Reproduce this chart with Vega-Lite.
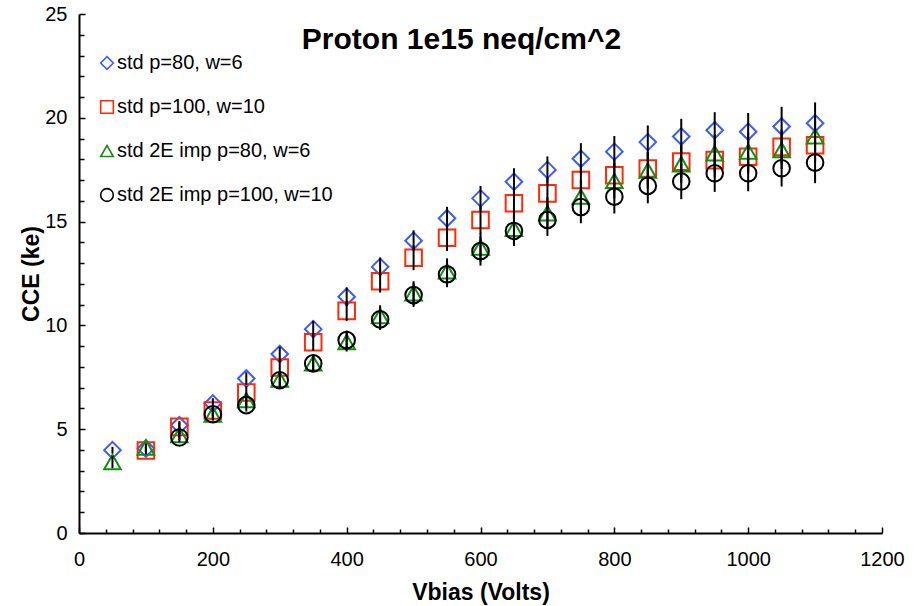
{
  "$schema": "https://vega.github.io/schema/vega-lite/v6.json",
  "autosize": {"type": "none"},
  "width": 803,
  "height": 519,
  "padding": {"left": 79, "top": 14, "right": 41, "bottom": 73},
  "background": "white",
  "config": {
    "font": "Liberation Sans",
    "view": {"stroke": null},
    "axis": {"grid": false, "domainColor": "black", "domainWidth": 2, "tickColor": "black", "tickWidth": 1.5, "labelColor": "black", "labelFont": "Liberation Sans", "labelFontSize": 20, "labelFlush": false, "titleFont": "Liberation Sans", "titleFontSize": 23, "titleFontWeight": "bold", "titleColor": "black"}
  },
  "title": {"text": "Proton 1e15 neq/cm^2", "font": "Liberation Sans", "fontSize": 30, "fontWeight": "bold", "color": "black", "anchor": "middle", "orient": "top", "offset": -51, "dx": -19},
  "data": {"values": [
    {"series": "std p=80, w=6", "vbias": 50, "cce": 3.99, "err": 0.16},
    {"series": "std p=80, w=6", "vbias": 100, "cce": 4.07, "err": 0.17},
    {"series": "std p=80, w=6", "vbias": 150, "cce": 5.19, "err": 0.2},
    {"series": "std p=80, w=6", "vbias": 200, "cce": 6.24, "err": 0.25},
    {"series": "std p=80, w=6", "vbias": 250, "cce": 7.44, "err": 0.3},
    {"series": "std p=80, w=6", "vbias": 300, "cce": 8.62, "err": 0.35},
    {"series": "std p=80, w=6", "vbias": 350, "cce": 9.82, "err": 0.4},
    {"series": "std p=80, w=6", "vbias": 400, "cce": 11.38, "err": 0.45},
    {"series": "std p=80, w=6", "vbias": 450, "cce": 12.82, "err": 0.45},
    {"series": "std p=80, w=6", "vbias": 500, "cce": 14.08, "err": 0.5},
    {"series": "std p=80, w=6", "vbias": 550, "cce": 15.16, "err": 0.55},
    {"series": "std p=80, w=6", "vbias": 600, "cce": 16.12, "err": 0.6},
    {"series": "std p=80, w=6", "vbias": 650, "cce": 16.92, "err": 0.65},
    {"series": "std p=80, w=6", "vbias": 700, "cce": 17.49, "err": 0.65},
    {"series": "std p=80, w=6", "vbias": 750, "cce": 18.03, "err": 0.75},
    {"series": "std p=80, w=6", "vbias": 800, "cce": 18.37, "err": 0.75},
    {"series": "std p=80, w=6", "vbias": 850, "cce": 18.83, "err": 0.8},
    {"series": "std p=80, w=6", "vbias": 900, "cce": 19.1, "err": 0.85},
    {"series": "std p=80, w=6", "vbias": 950, "cce": 19.4, "err": 0.87},
    {"series": "std p=80, w=6", "vbias": 1000, "cce": 19.33, "err": 0.9},
    {"series": "std p=80, w=6", "vbias": 1050, "cce": 19.58, "err": 0.95},
    {"series": "std p=80, w=6", "vbias": 1100, "cce": 19.74, "err": 1.0},
    {"series": "std p=100, w=10", "vbias": 100, "cce": 3.97, "err": 0.18},
    {"series": "std p=100, w=10", "vbias": 150, "cce": 5.11, "err": 0.23},
    {"series": "std p=100, w=10", "vbias": 200, "cce": 5.9, "err": 0.27},
    {"series": "std p=100, w=10", "vbias": 250, "cce": 6.77, "err": 0.3},
    {"series": "std p=100, w=10", "vbias": 300, "cce": 7.97, "err": 0.36},
    {"series": "std p=100, w=10", "vbias": 350, "cce": 9.19, "err": 0.41},
    {"series": "std p=100, w=10", "vbias": 400, "cce": 10.7, "err": 0.48},
    {"series": "std p=100, w=10", "vbias": 450, "cce": 12.13, "err": 0.55},
    {"series": "std p=100, w=10", "vbias": 500, "cce": 13.26, "err": 0.6},
    {"series": "std p=100, w=10", "vbias": 550, "cce": 14.22, "err": 0.64},
    {"series": "std p=100, w=10", "vbias": 600, "cce": 15.08, "err": 0.68},
    {"series": "std p=100, w=10", "vbias": 650, "cce": 15.88, "err": 0.71},
    {"series": "std p=100, w=10", "vbias": 700, "cce": 16.36, "err": 0.74},
    {"series": "std p=100, w=10", "vbias": 750, "cce": 17.0, "err": 0.77},
    {"series": "std p=100, w=10", "vbias": 800, "cce": 17.23, "err": 0.78},
    {"series": "std p=100, w=10", "vbias": 850, "cce": 17.56, "err": 0.79},
    {"series": "std p=100, w=10", "vbias": 900, "cce": 17.89, "err": 0.8},
    {"series": "std p=100, w=10", "vbias": 950, "cce": 17.96, "err": 0.81},
    {"series": "std p=100, w=10", "vbias": 1000, "cce": 18.12, "err": 0.82},
    {"series": "std p=100, w=10", "vbias": 1050, "cce": 18.6, "err": 0.84},
    {"series": "std p=100, w=10", "vbias": 1100, "cce": 18.68, "err": 0.84},
    {"series": "std 2E imp p=80, w=6", "vbias": 50, "cce": 3.42, "err": 0.3},
    {"series": "std 2E imp p=80, w=6", "vbias": 100, "cce": 4.12, "err": 0.2},
    {"series": "std 2E imp p=80, w=6", "vbias": 150, "cce": 4.72, "err": 0.24},
    {"series": "std 2E imp p=80, w=6", "vbias": 200, "cce": 5.71, "err": 0.29},
    {"series": "std 2E imp p=80, w=6", "vbias": 250, "cce": 6.4, "err": 0.32},
    {"series": "std 2E imp p=80, w=6", "vbias": 300, "cce": 7.39, "err": 0.37},
    {"series": "std 2E imp p=80, w=6", "vbias": 350, "cce": 8.17, "err": 0.41},
    {"series": "std 2E imp p=80, w=6", "vbias": 400, "cce": 9.2, "err": 0.46},
    {"series": "std 2E imp p=80, w=6", "vbias": 450, "cce": 10.45, "err": 0.52},
    {"series": "std 2E imp p=80, w=6", "vbias": 500, "cce": 11.55, "err": 0.58},
    {"series": "std 2E imp p=80, w=6", "vbias": 550, "cce": 12.6, "err": 0.63},
    {"series": "std 2E imp p=80, w=6", "vbias": 600, "cce": 13.75, "err": 0.69},
    {"series": "std 2E imp p=80, w=6", "vbias": 650, "cce": 14.65, "err": 0.73},
    {"series": "std 2E imp p=80, w=6", "vbias": 700, "cce": 15.4, "err": 0.77},
    {"series": "std 2E imp p=80, w=6", "vbias": 750, "cce": 16.2, "err": 0.81},
    {"series": "std 2E imp p=80, w=6", "vbias": 800, "cce": 16.96, "err": 0.85},
    {"series": "std 2E imp p=80, w=6", "vbias": 850, "cce": 17.46, "err": 0.87},
    {"series": "std 2E imp p=80, w=6", "vbias": 900, "cce": 17.76, "err": 0.89},
    {"series": "std 2E imp p=80, w=6", "vbias": 950, "cce": 18.29, "err": 0.91},
    {"series": "std 2E imp p=80, w=6", "vbias": 1000, "cce": 18.37, "err": 0.92},
    {"series": "std 2E imp p=80, w=6", "vbias": 1050, "cce": 18.45, "err": 0.92},
    {"series": "std 2E imp p=80, w=6", "vbias": 1100, "cce": 19.11, "err": 0.96},
    {"series": "std 2E imp p=100, w=10", "vbias": 150, "cce": 4.6, "err": 0.23},
    {"series": "std 2E imp p=100, w=10", "vbias": 200, "cce": 5.72, "err": 0.29},
    {"series": "std 2E imp p=100, w=10", "vbias": 250, "cce": 6.16, "err": 0.31},
    {"series": "std 2E imp p=100, w=10", "vbias": 300, "cce": 7.36, "err": 0.37},
    {"series": "std 2E imp p=100, w=10", "vbias": 350, "cce": 8.17, "err": 0.41},
    {"series": "std 2E imp p=100, w=10", "vbias": 400, "cce": 9.29, "err": 0.46},
    {"series": "std 2E imp p=100, w=10", "vbias": 450, "cce": 10.29, "err": 0.51},
    {"series": "std 2E imp p=100, w=10", "vbias": 500, "cce": 11.46, "err": 0.57},
    {"series": "std 2E imp p=100, w=10", "vbias": 550, "cce": 12.46, "err": 0.62},
    {"series": "std 2E imp p=100, w=10", "vbias": 600, "cce": 13.58, "err": 0.7},
    {"series": "std 2E imp p=100, w=10", "vbias": 650, "cce": 14.55, "err": 0.73},
    {"series": "std 2E imp p=100, w=10", "vbias": 700, "cce": 15.08, "err": 0.77},
    {"series": "std 2E imp p=100, w=10", "vbias": 750, "cce": 15.7, "err": 0.78},
    {"series": "std 2E imp p=100, w=10", "vbias": 800, "cce": 16.2, "err": 0.81},
    {"series": "std 2E imp p=100, w=10", "vbias": 850, "cce": 16.72, "err": 0.84},
    {"series": "std 2E imp p=100, w=10", "vbias": 900, "cce": 16.93, "err": 0.85},
    {"series": "std 2E imp p=100, w=10", "vbias": 950, "cce": 17.33, "err": 0.9},
    {"series": "std 2E imp p=100, w=10", "vbias": 1000, "cce": 17.33, "err": 0.87},
    {"series": "std 2E imp p=100, w=10", "vbias": 1050, "cce": 17.57, "err": 0.88},
    {"series": "std 2E imp p=100, w=10", "vbias": 1100, "cce": 17.84, "err": 0.99}
  ]},
  "resolve": {"axis": {"x": "independent", "y": "independent"}},
  "layer": [
    {
      "mark": {"type": "point", "filled": false, "strokeWidth": 2, "size": 275, "opacity": 1},
      "encoding": {
        "x": {"field": "vbias", "type": "quantitative", "scale": {"domain": [0, 1200], "nice": false, "zero": true},
              "axis": {"orient": "bottom", "values": [0, 200, 400, 600, 800, 1000, 1200], "tickSize": -6, "labelPadding": 22, "title": "Vbias (Volts)", "titlePadding": 12, "format": "d"}},
        "y": {"field": "cce", "type": "quantitative", "scale": {"domain": [0, 25], "nice": false},
              "axis": {"orient": "left", "values": [0, 5, 10, 15, 20, 25], "tickSize": -6, "labelPadding": 18, "title": "CCE (ke)", "titlePadding": 1, "format": "d"}},
        "shape": {"field": "series", "type": "nominal",
                  "scale": {"domain": ["std p=80, w=6", "std p=100, w=10", "std 2E imp p=80, w=6", "std 2E imp p=100, w=10"], "range": ["diamond", "square", "triangle-up", "circle"]},
                  "legend": {"title": null, "orient": "none", "legendX": 18, "legendY": 39, "symbolSize": 160, "symbolStrokeWidth": 1.6, "labelFontSize": 20, "labelFont": "Liberation Sans", "labelColor": "black", "labelOffset": 0, "labelLimit": 400, "rowPadding": 24, "padding": 0}},
        "color": {"field": "series", "type": "nominal",
                  "scale": {"domain": ["std p=80, w=6", "std p=100, w=10", "std 2E imp p=80, w=6", "std 2E imp p=100, w=10"], "range": ["#3a5cff", "#ff2a0a", "#109010", "#000000"]},
                  "legend": {"title": null, "orient": "none", "legendX": 18, "legendY": 39, "symbolSize": 160, "symbolStrokeWidth": 1.6, "labelFontSize": 20, "labelFont": "Liberation Sans", "labelColor": "black", "labelOffset": 0, "labelLimit": 400, "rowPadding": 24, "padding": 0}}
      }
    },
    {
      "mark": {"type": "errorbar", "color": "black", "thickness": 2},
      "encoding": {
        "x": {"field": "vbias", "type": "quantitative", "scale": {"domain": [0, 1200], "nice": false},
              "axis": {"orient": "bottom", "values": [40, 80, 120, 160, 240, 280, 320, 360, 440, 480, 520, 560, 640, 680, 720, 760, 840, 880, 920, 960, 1040, 1080, 1120, 1160], "tickSize": -4, "labels": false, "domain": false, "title": null}},
        "y": {"field": "cce", "type": "quantitative", "scale": {"domain": [0, 25], "nice": false},
              "axis": {"orient": "left", "values": [1, 2, 3, 4, 6, 7, 8, 9, 11, 12, 13, 14, 16, 17, 18, 19, 21, 22, 23, 24], "tickSize": -5, "labels": false, "domain": false, "title": null}},
        "yError": {"field": "err"},
        "detail": {"field": "series", "type": "nominal"}
      }
    }
  ]
}
